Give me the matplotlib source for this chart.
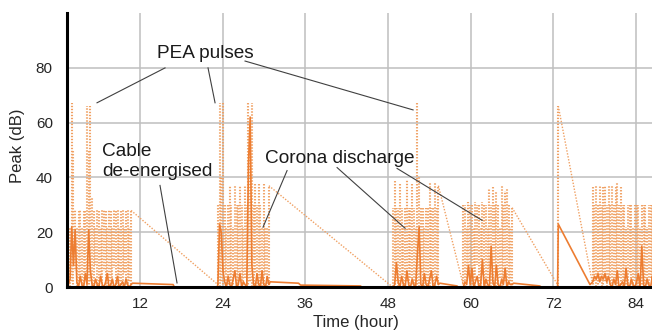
import numpy as np
import matplotlib.pyplot as plt
from matplotlib.collections import LineCollection

plt.rcParams['font.family'] = ['Liberation Sans', 'DejaVu Sans']

# recording windows (hour) where the sensor was logging pulses
burst_start = [1.6, 23.3, 48.7, 58.9, 77.7]
burst_end = [10.7, 30.7, 55.3, 66.0, 86.6]

# peak amplitude (dB): upper and lower excursions of each burst
peak_hi_a = [28, 22, 67, 50, 28, 22, 28, 28, 22, 28, 28, 66, 50, 66, 33, 28, 22, 28, 28,
             22, 28, 28, 28, 22, 28, 28, 22, 28, 28, 28, 22, 28, 28, 22, 28, 28, 22, 28]
peak_lo_a = [1, 0, 2, 1, 6, 0, 1, 2, 0, 1, 5, 0, 1, 2, 0, 1, 8, 0, 1,
             2, 0, 6, 1, 0, 2, 1, 0, 7, 1, 0, 2, 1, 0, 5, 1, 0, 2, 1]
peak_hi_b = [30, 67, 40, 67, 30, 22, 30, 37, 30, 22, 37, 30, 30, 37, 30, 22,
             37, 30, 67, 55, 67, 30, 38, 30, 38, 30, 22, 38, 22, 22, 37]
peak_lo_b = [1, 0, 2, 1, 5, 0, 1, 2, 0, 1, 4, 0, 1, 2, 0, 1,
             3, 0, 1, 2, 0, 1, 5, 0, 1, 2, 0, 1, 4, 0, 1]
peak_hi_c = [29, 39, 29, 29, 38, 29, 22, 29, 39, 29, 29, 38, 29, 22,
             67, 40, 29, 29, 22, 29, 29, 38, 29, 29, 38, 29, 37]
peak_lo_c = [0, 1, 2, 0, 1, 4, 0, 1, 2, 0, 3, 1, 0, 2,
             1, 0, 5, 1, 0, 2, 1, 0, 3, 1, 0, 2, 1]
peak_hi_d = [30, 30, 22, 31, 30, 30, 22, 31, 30, 30, 22, 31, 30, 30, 22,
             36, 30, 37, 30, 35, 30, 22, 37, 30, 35, 36, 30, 22, 29]
peak_lo_d = [1, 0, 2, 6, 0, 1, 3, 0, 8, 1, 0, 4, 1, 0, 2,
             7, 0, 1, 5, 0, 1, 3, 0, 1, 2, 0, 1, 2, 1]
peak_hi_e = [37, 30, 37, 30, 37, 30, 37, 37, 30, 37, 30, 37, 30, 37, 38, 30, 37, 30,
             30, 22, 30, 30, 30, 22, 30, 30, 30, 22, 30, 30, 30, 22, 30, 30, 30, 30]
peak_lo_e = [1, 2, 0, 1, 3, 0, 1, 2, 0, 4, 1, 0, 2, 1, 0, 3, 1, 0,
             2, 1, 0, 5, 1, 0, 2, 1, 0, 6, 1, 0, 2, 1, 0, 3, 1, 0]
# isolated pulse at 72 h
pulse_t = 72.7
pulse_lo, pulse_hi = 0.5, 66

# mean level (dB) during each burst
mean_a = [1, 3, 22, 8, 21, 2, 0, 4, 1, 0, 5, 1, 21, 6, 1, 0, 3, 1, 0,
          4, 1, 0, 2, 5, 0, 1, 3, 0, 1, 4, 0, 1, 2, 0, 3, 1, 0, 1]
mean_b = [1, 23, 20, 6, 2, 0, 4, 1, 0, 3, 6, 0, 1, 5, 0, 2,
          1, 0, 45, 62, 8, 1, 0, 5, 1, 0, 6, 1, 0, 4, 1]
mean_c = [0, 1, 9, 2, 0, 4, 1, 0, 6, 1, 0, 3, 1, 0,
          12, 22, 1, 0, 5, 1, 0, 3, 6, 0, 1, 4, 1]
mean_d = [0, 2, 1, 8, 1, 7, 0, 2, 4, 0, 1, 10, 0, 3, 1,
          0, 15, 2, 0, 8, 1, 0, 3, 1, 7, 0, 2, 1, 1]
mean_e = [2, 4, 3, 5, 2, 4, 3, 5, 2, 4, 1, 0, 3, 1, 6, 0, 1, 2,
          0, 7, 1, 0, 3, 1, 0, 2, 5, 0, 15, 1, 0, 3, 1, 0, 4, 1]
# mean level between bursts
gap_a_t, gap_a_v = [10.9, 16.8, 17.0, 23.2], [1.5, 1.0, 0, 0]
gap_b_t, gap_b_v = [30.9, 35.0, 35.3, 44.0, 44.2, 48.6], [2.0, 1.5, 0.8, 0.5, 0, 0]
gap_c_t, gap_c_v = [55.5, 58.0, 58.2, 58.8], [1.5, 0.5, 0, 0]
gap_d_t, gap_d_v = [66.2, 70.0, 70.3, 72.6, 72.7, 77.3], [1.5, 0.5, 0, 0, 23, 1]

peak_hi = [peak_hi_a, peak_hi_b, peak_hi_c, peak_hi_d, peak_hi_e]
peak_lo = [peak_lo_a, peak_lo_b, peak_lo_c, peak_lo_d, peak_lo_e]
means = [mean_a, mean_b, mean_c, mean_d, mean_e]
gaps = [(gap_a_t, gap_a_v), (gap_b_t, gap_b_v), (gap_c_t, gap_c_v), (gap_d_t, gap_d_v)]

fig = plt.figure(figsize=(6.52, 3.32), dpi=100)
ax = fig.add_axes([0.1023, 0.1346, 0.8977, 0.8271])
ax.set_xlim(1.36, 86.3)
ax.set_ylim(0, 100)

# peak trace: a pulse stroke per sample, and straight runs across the logging gaps
strokes = []
links = []
prev_end = None
for k in range(5):
    t = np.linspace(burst_start[k], burst_end[k], len(peak_hi[k]))
    if k == 4:
        strokes.append([(pulse_t, pulse_lo), (pulse_t, pulse_hi)])
        links.append([prev_end, (pulse_t, pulse_lo)])
        prev_end = (pulse_t, pulse_hi)
    if prev_end is not None:
        links.append([prev_end, (t[0], peak_lo[k][0])])
    for ti, lo, hi in zip(t, peak_lo[k], peak_hi[k]):
        strokes.append([(ti, lo), (ti, hi)])
    prev_end = (t[-1], peak_hi[k][-1])

peak_color = '#F0A062'
# dots of neighbouring strokes share the same heights -> horizontal striping
stroke_lw = 1.5
dash = (0.66, 0.78)
period = sum(dash)
styles = []
for seg in strokes:
    y0 = ax.transData.transform(seg[0])[1] * 72 / fig.dpi / stroke_lw
    styles.append((y0 % period, dash))
ax.add_collection(LineCollection(strokes, colors=peak_color, linewidths=stroke_lw,
                                 linestyles=styles, zorder=2))
ax.add_collection(LineCollection(links, colors=peak_color, linewidths=1.0,
                                 linestyles=[(0, (1.0, 1.16))], zorder=2))

# mean trace
mn_t, mn_v = [], []
for k in range(5):
    mn_t.append(np.linspace(burst_start[k], burst_end[k], len(means[k])))
    mn_v.append(np.array(means[k], dtype=float))
    if k < 4:
        mn_t.append(np.array(gaps[k][0]))
        mn_v.append(np.array(gaps[k][1], dtype=float))
ax.plot(np.concatenate(mn_t), np.concatenate(mn_v), color='#ED7D31', lw=1.2, zorder=3)

ax.set_xticks([12, 24, 36, 48, 60, 72, 84])
ax.set_yticks([0, 20, 40, 60, 80])
ax.grid(True, color='#BFBFBF', lw=1.1, zorder=0)
ax.set_axisbelow(True)
for s in ['top', 'right']:
    ax.spines[s].set_visible(False)
for s in ['left', 'bottom']:
    ax.spines[s].set_linewidth(2.2)
    ax.spines[s].set_color('black')
    ax.spines[s].set_zorder(5)
ax.tick_params(axis='both', length=0, labelsize=11, colors='#262626')
ax.tick_params(axis='y', pad=10)
ax.tick_params(axis='x', pad=7)

ax.set_xlabel('Time (hour)', fontsize=12, color='#262626')
ax.set_ylabel('Peak (dB)', fontsize=12, color='#262626')
ax.xaxis.set_label_coords(0.494, -0.100)
ax.yaxis.set_label_coords(-0.071, 0.516)

# annotations
txt = dict(fontsize=13.7, color='#1a1a1a', va='baseline', ha='left')
ax.text(14.47, 83.5, 'PEA pulses', **txt)
ax.text(6.48, 48.0, 'Cable', **txt)
ax.text(6.48, 40.7, 'de-energised', **txt)
ax.text(30.14, 45.4, 'Corona discharge', **txt)

leader = dict(color='#404040', lw=0.8, zorder=6)
ax.plot([15.63, 5.76], [79.9, 67.2], **leader)
ax.plot([21.87, 22.89], [79.9, 67.2], **leader)
ax.plot([27.24, 51.63], [82.4, 64.6], **leader)
ax.plot([14.90, 17.37], [37.1, 1.6], **leader)
ax.plot([33.34, 29.85], [42.5, 21.9], **leader)
ax.plot([40.60, 50.47], [43.6, 21.5], **leader)
ax.plot([49.30, 61.64], [43.3, 24.4], **leader)

fig.savefig('out.png', dpi=100)
